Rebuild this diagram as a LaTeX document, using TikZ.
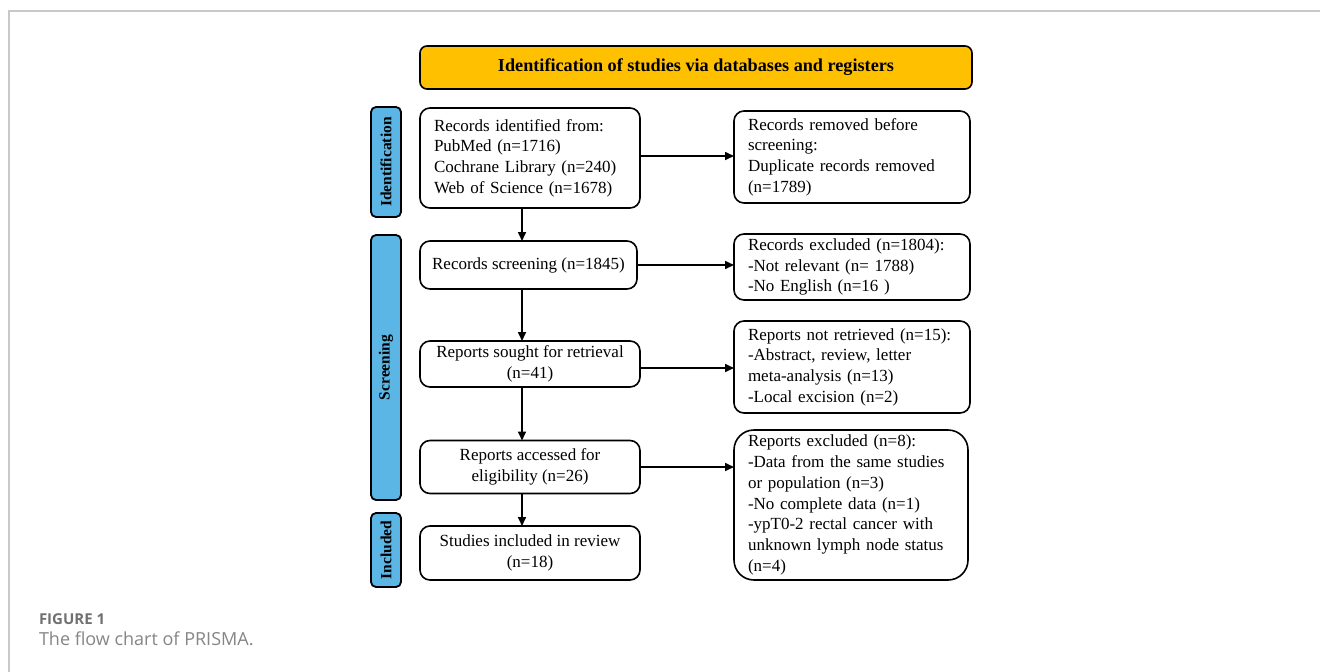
\documentclass[tikz,border=0pt]{standalone}
\usepackage{fontspec}
\setmainfont{Liberation Serif}
\newfontfamily\capfont{Open Sans}
\usetikzlibrary{arrows.meta}
\definecolor{hdr}{HTML}{FFC000}
\definecolor{side}{HTML}{5BB6E6}
\definecolor{frame}{HTML}{C8C8C8}
\definecolor{captxt}{HTML}{858585}
\definecolor{figtxt}{HTML}{707070}
\begin{document}
\begin{tikzpicture}[x=1pt,y=-1pt,
  every node/.style={inner sep=0pt,outer sep=0pt},
  box/.style={draw=black,line width=1.6pt,rounded corners=10pt,fill=white,
    font=\fontsize{17}{20.7}\selectfont},
  lbox/.style={box,align=left},
  cbox/.style={box,align=center},
  sidebox/.style={draw=black,line width=1.8pt,rounded corners=5pt,fill=side,
    rotate=90,font=\fontsize{15.5}{18}\selectfont\bfseries,minimum height=30pt},
  arr/.style={line width=1.6pt,-{Triangle[length=9pt,width=8pt]}},
  framel/.style={draw=frame,line width=1.2pt}
]
\useasboundingbox (0,0) rectangle (1320,672);
% outer frame lines
\coordinate (f0) at (9,11);
\coordinate (f1) at (1320,11);
\coordinate (f2) at (9,672);
\draw[framel] (f2) -- (f0) -- (f1);

% header
\node[box,fill=hdr,rounded corners=7pt,minimum width=552pt,minimum height=43pt,
  font=\fontsize{18.2}{20}\selectfont\bfseries] (hdr) at (696,67.5)
  {Identification of studies via databases and registers};

% side labels
\node[sidebox,minimum width=110pt] (sid) at (386,162) {Identification};
\node[sidebox,minimum width=265pt] (sscr) at (386,367.5) {Screening};
\node[sidebox,minimum width=74pt] (sinc) at (386,550) {Included};

% left column
\node[lbox,minimum width=220pt,minimum height=100pt,text width=192pt] (b1) at (530,158)
  {Records identified from:\\PubMed (n=1716)\\Cochrane Library (n=240)\\Web of Science (n=1678)};
\node[cbox,minimum width=217pt,minimum height=48pt] (b2) at (528.5,265)
  {Records screening (n=1845)};
\node[cbox,minimum width=220pt,minimum height=46pt] (b3) at (530,364)
  {Reports sought for retrieval\\(n=41)};
\node[cbox,minimum width=220pt,minimum height=53pt] (b4) at (530,467)
  {Reports accessed for\\eligibility (n=26)};
\node[cbox,minimum width=220pt,minimum height=54pt] (b5) at (530,553)
  {Studies included in review\\(n=18)};

% right column
\node[lbox,minimum width=236pt,minimum height=92pt,text width=208pt] (r1) at (852,157)
  {Records removed before\\screening:\\Duplicate records removed\\(n=1789)};
\node[lbox,minimum width=236pt,minimum height=66pt,text width=208pt] (r2) at (852,267)
  {Records excluded (n=1804):\\-Not relevant (n= 1788)\\-No English (n=16 )};
\node[lbox,minimum width=236pt,minimum height=92pt,text width=208pt] (r3) at (852,367)
  {Reports not retrieved (n=15):\\-Abstract, review, letter\\meta-analysis (n=13)\\-Local excision (n=2)};
\node[lbox,rounded corners=20pt,minimum width=234pt,minimum height=150pt,text width=206pt] (r4) at (851,505)
  {Reports excluded (n=8):\\-Data from the same studies\\or population (n=3)\\-No complete data (n=1)\\-ypT0-2 rectal cancer with\\unknown lymph node status\\(n=4)};

% vertical arrows
\coordinate (ax) at (522,0);
\draw[arr] (b1.south -| ax) -- (b2.north -| ax);
\draw[arr] (b2.south -| ax) -- (b3.north -| ax);
\draw[arr] (b3.south -| ax) -- (b4.north -| ax);
\draw[arr] (b4.south -| ax) -- (b5.north -| ax);

% horizontal arrows
\draw[arr] ([yshift=2pt]b1.east) -- ([yshift=2pt]b1.east -| r1.west);
\draw[arr] (b2.east) -- (b2.east -| r2.west);
\draw[arr] ([yshift=-4pt]b3.east) -- ([yshift=-4pt]b3.east -| r3.west);
\draw[arr] (b4.east) -- (b4.east -| r4.west);

% caption
\node[anchor=base west,font=\capfont\fontsize{15}{18}\selectfont\bfseries,text=figtxt] (cap1) at (39,624) {FIGURE 1};
\node[anchor=base west,font=\capfont\fontsize{18}{22}\selectfont,text=captxt] (cap2) at (39,645) {The flow chart of PRISMA.};
\end{tikzpicture}
\end{document}
